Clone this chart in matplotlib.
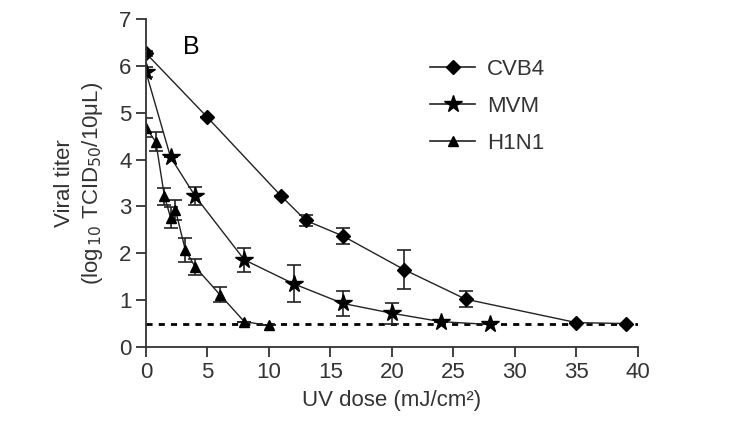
import matplotlib
matplotlib.use("Agg")
import matplotlib.pyplot as plt
from matplotlib.lines import Line2D

plt.rcParams['font.family'] = ['Liberation Sans', 'DejaVu Sans']

# Data
cvb4_x = [0, 5, 11, 13, 16, 21, 26, 35, 39]
cvb4_y = [6.27, 4.9, 3.22, 2.7, 2.37, 1.65, 1.02, 0.52, 0.5]
cvb4_err = [0.05, 0, 0, 0.12, 0.18, 0.42, 0.17, 0, 0]

mvm_x = [0, 2, 4, 8, 12, 16, 20, 24, 28]
mvm_y = [5.87, 4.05, 3.22, 1.86, 1.35, 0.93, 0.72, 0.54, 0.48]
mvm_err = [0.1, 0, 0.19, 0.25, 0.39, 0.26, 0.22, 0, 0]

h1n1_x = [0, 0.8, 1.5, 2.0, 2.4, 3.2, 4, 6, 8, 10]
h1n1_y = [4.68, 4.38, 3.22, 2.76, 2.92, 2.07, 1.71, 1.12, 0.54, 0.46]
h1n1_err = [0.2, 0.2, 0.18, 0.23, 0.22, 0.25, 0.17, 0.15, 0, 0]

detection_limit = 0.5
xticks = [0, 5, 10, 15, 20, 25, 30, 35, 40]
yticks = [0, 1, 2, 3, 4, 5, 6, 7]
labels = ['CVB4', 'MVM', 'H1N1']

fig = plt.figure(figsize=(7.47, 4.38), dpi=100)
ax = fig.add_axes([0.1954, 0.2078, 0.6586, 0.7488])

lc = '#222222'
common = dict(color=lc, lw=1.0, ecolor=lc, elinewidth=1.2, capsize=5, capthick=1.2)
styles = [('D', 7.5), ('*', 13), ('^', 7.5)]
series = [(cvb4_x, cvb4_y, cvb4_err), (mvm_x, mvm_y, mvm_err), (h1n1_x, h1n1_y, h1n1_err)]
handles = []
for (xs, ys, es), (m, ms), lab in zip(series, styles, labels):
    ax.errorbar(xs, ys, yerr=es, marker=m, ms=ms, mfc='black', mec='black', **common)
    handles.append(Line2D([], [], color=lc, lw=1.2, marker=m, ms=ms,
                          mfc='black', mec='black', label=lab))

ax.plot([0, 40], [detection_limit, detection_limit], linestyle=(0, (2.2, 2.2)),
        color='black', lw=2.0, zorder=1)

ax.set_xlim(0, 40)
ax.set_ylim(0, 7)
ax.set_xticks(xticks)
ax.set_yticks(yticks)
for s in ['top', 'right']:
    ax.spines[s].set_visible(False)
for s in ['left', 'bottom']:
    ax.spines[s].set_linewidth(1.3)
    ax.spines[s].set_color('#333333')
ax.tick_params(direction='out', length=7, width=1.3, colors='#333333',
               labelsize=16, labelcolor='#333333')
ax.set_xlabel('UV dose (mJ/cm²)', fontsize=16, color='#333333', labelpad=5)
ax.set_ylabel('Viral titer\n(log$_{\\,10}$ TCID$_{50}$/10μL)', fontsize=16,
              color='#333333', labelpad=10, linespacing=1.3)

ax.text(0.075, 0.915, 'B', transform=ax.transAxes, fontsize=18, color='black',
        ha='left', va='center')

leg = ax.legend(handles=handles, loc='upper left', bbox_to_anchor=(0.56, 0.905),
                frameon=False, fontsize=16, handlelength=2.0, labelspacing=0.72,
                handletextpad=0.55, borderaxespad=0)
for t in leg.get_texts():
    t.set_color('#333333')

fig.savefig('out.png', dpi=100)
